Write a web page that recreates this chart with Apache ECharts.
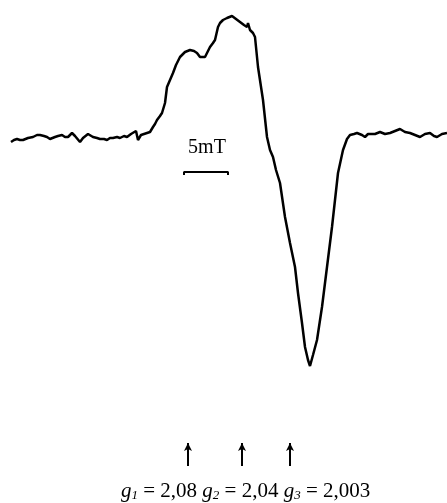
<!DOCTYPE html>
<html>
<head>
<meta charset="utf-8">
<script src="https://cdn.jsdelivr.net/npm/echarts@6/dist/echarts.min.js"></script>
<style>
  html, body { margin: 0; padding: 0; background: #fff; }
  #chart { width: 447px; height: 503px; }
</style>
</head>
<body>
<div id="chart"></div>
<script>
// spectrum: [field position, signal] (screen-like units, y down)
const spectrum = [
  [11, 142], [14, 140], [17, 139], [20, 140], [23, 140], [28, 138], [33, 137], [37, 135],
  [40, 135], [44, 136], [47, 137], [50, 139], [52, 140], [55, 137], [58, 136], [62, 135],
  [65, 137], [68, 137], [72, 133], [75, 136], [77, 138], [80, 142], [83, 138], [85, 137],
  [88, 134], [90, 132], [93, 137], [97, 138], [100, 139], [104, 139], [107, 140], [110, 138],
  [113, 138], [117, 137], [120, 138], [124, 136], [127, 137], [131, 134], [133, 133],
  [136, 131], [138, 140], [141, 135], [143, 133], [147, 133], [150, 132], [153, 127],
  [155, 124], [157, 120], [160, 116], [162, 113], [165, 103], [167, 87], [170, 80],
  [173, 73], [176, 65], [180, 57], [185, 52], [190, 50], [194, 51], [197, 53], [200, 57],
  [202, 59], [205, 57], [208, 51], [210, 47], [213, 43], [215, 40], [218, 27], [220, 23],
  [223, 20], [227, 18], [232, 16], [236, 19], [240, 22], [244, 25], [247, 27], [248, 23],
  [250, 30], [253, 33], [255, 37], [258, 67], [263, 100], [267, 137], [270, 150],
  [273, 157], [276, 170], [280, 183], [285, 217], [290, 243], [295, 267], [298, 293],
  [302, 323], [305, 347], [308, 360], [310, 366], [313, 355], [317, 340], [322, 307],
  [327, 267], [332, 227], [335, 200], [338, 173], [343, 150], [347, 139], [350, 135],
  [354, 134], [357, 133], [362, 135], [365, 137], [368, 134], [370, 133], [375, 134],
  [380, 132], [385, 134], [390, 133], [395, 131], [400, 129], [405, 132], [410, 133],
  [415, 135], [420, 137], [425, 134], [430, 133], [434, 136], [437, 137], [442, 134], [447, 133]
];
// scale bar 5 mT
const scaleBar = [[184, 175], [184, 172], [228, 172], [228, 175]];
const scaleLabel = '5mT';
// g-value arrow positions
const gArrows = [188, 242, 290];
const gNames = ['1', '2', '3'];
const gValues = ['2,08', '2,04', '2,003'];

const chart = echarts.init(document.getElementById('chart'), null, { renderer: 'canvas' });

const serif = 'Liberation Serif';
const rich = {
  g: { fontFamily: serif, fontStyle: 'italic', fontWeight: 'normal', fontSize: 21, color: '#000' },
  s: { fontFamily: serif, fontStyle: 'italic', fontWeight: 'normal', fontSize: 13, color: '#000', verticalAlign: 'bottom', padding: [9, 0, 0, 0] },
  t: { fontFamily: serif, fontWeight: 'normal', fontSize: 21, color: '#000' }
};
const gText = gNames.map((n, i) => '{g|g}{s|' + n + '}{t| = ' + gValues[i] + '}').join('{t| }');

chart.setOption({
  animation: false,
  backgroundColor: '#fff',
  grid: { left: 0, right: 0, top: 0, bottom: 0 },
  xAxis: { type: 'value', min: 0, max: 447, show: false },
  yAxis: { type: 'value', min: 0, max: 503, inverse: true, show: false },
  title: {
    text: gText,
    left: 121,
    top: 480,
    padding: 0,
    textStyle: { fontWeight: 'normal', rich: rich }
  },
  series: [
    {
      type: 'line',
      data: spectrum,
      symbol: 'none',
      lineStyle: { color: '#000', width: 2.5 },
      markLine: {
        silent: true,
        symbol: ['none', 'arrow'],
        symbolSize: [6, 8],
        lineStyle: { color: '#000', width: 2, type: 'solid' },
        label: { show: false },
        data: gArrows.map(x => [{ coord: [x, 466] }, { coord: [x, 443] }])
      }
    },
    {
      type: 'line',
      data: scaleBar,
      symbol: 'none',
      lineStyle: { color: '#000', width: 2 },
      markPoint: {
        symbol: 'rect',
        symbolSize: 0,
        label: {
          show: true,
          formatter: scaleLabel,
          fontFamily: serif,
          fontSize: 20,
          color: '#000'
        },
        data: [{ coord: [207, 148] }]
      }
    }
  ]
});
</script>
</body>
</html>
